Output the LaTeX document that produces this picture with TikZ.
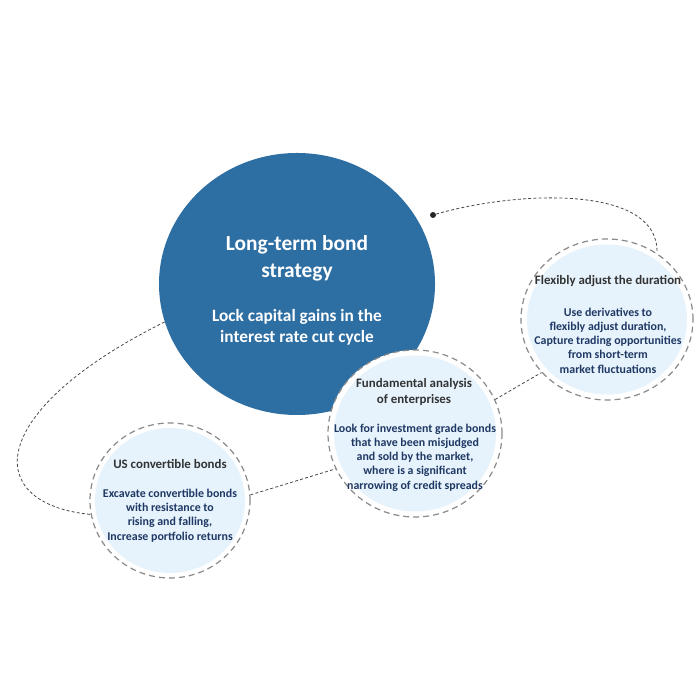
\documentclass[tikz,border=0pt]{standalone}
\usepackage{fontspec}
\setmainfont{Carlito}
\usepackage{tikz}
\usetikzlibrary{shapes.geometric}

\definecolor{bigblue}{HTML}{2D6EA3}
\definecolor{palefill}{HTML}{E6F3FC}
\definecolor{navytext}{HTML}{1F3864}
\definecolor{headgray}{HTML}{333333}
\definecolor{ringgray}{HTML}{8A8A8A}
\definecolor{linkgray}{HTML}{4A4A4A}

\begin{document}
\begin{tikzpicture}[x=1pt, y=1pt,
    bigdisc/.style={ellipse, fill=bigblue, inner sep=0pt},
    ring/.style={ellipse, fill=white, draw=ringgray, line width=1.2pt, dash pattern=on 6pt off 4pt, inner sep=0pt},
    pale/.style={ellipse, fill=palefill, inner sep=0pt},
    headtext/.style={align=center, text=headgray, font=\fontsize{12.9}{16.3}\selectfont\bfseries, inner sep=0pt},
    bodytext/.style={align=center, text=navytext, font=\fontsize{11.9}{14.3}\selectfont\bfseries, inner sep=0pt},
    link/.style={draw=linkgray, line width=0.8pt, dash pattern=on 3pt off 2.2pt},
    dotmark/.style={circle, fill=black!85, minimum size=6pt, inner sep=0pt}]

  \path[use as bounding box, fill=white] (0,0) rectangle (700,700);

  % circles first, the small ones cover the links
  \node[bigdisc, minimum width=276pt, minimum height=262pt] (big) at (297,416) {};
  \node[ring, minimum width=172pt, minimum height=161pt] (flex) at (607,380.5) {};
  \node[ring, minimum width=174pt, minimum height=167pt] (fund) at (415,266.5) {};
  \node[ring, minimum width=160pt, minimum height=155pt] (us) at (170,199.5) {};
  \node[dotmark] (start) at (433,485) {};

  % dashed links
  \draw[link] (start) .. controls +(87,25) and +(3,68) .. (flex.53); %% dot->flex
  \draw[link] (big.196) .. controls +(-179,-89) and +(-110,11) .. (us.190); %% big->us
  \draw[link] (fund.23) -- (flex.219); %% fund->flex
  \draw[link] (us.4) -- (fund.204); %% us->fund

  % centre circle text
  \node[align=center, text=white, font=\fontsize{21.4}{27.5}\selectfont\bfseries, inner sep=0pt] (bigtitle) at (297,441.5) {Long-term bond\\strategy};
  \node[align=center, text=white, font=\fontsize{17.3}{20.5}\selectfont\bfseries, inner sep=0pt] (bigsub) at (297,372.5) {Lock capital gains in the\\interest rate cut cycle};

  % flexibly adjust the duration
  \node[pale, minimum width=160pt, minimum height=150pt] (flexin) at (flex) {};
  \node[headtext] (flexhead) at (608,419) {Flexibly adjust the duration};
  \node[bodytext] (flexbody) at (608,359.5) {Use derivatives to\\flexibly adjust duration,\\Capture trading opportunities\\from short-term\\market fluctuations};

  % fundamental analysis
  \node[pale, minimum width=162pt, minimum height=156pt] (fundin) at (fund) {};
  \node[headtext] (fundhead) at (414,308) {Fundamental analysis\\of enterprises};
  \node[bodytext] (fundbody) at (415,242.5) {Look for investment grade bonds\\that have been misjudged\\and sold by the market,\\where is a significant\\narrowing of credit spreads};

  % US convertible bonds
  \node[pale, minimum width=150pt, minimum height=145pt] (usin) at (us) {};
  \node[headtext] (ushead) at (170,236) {US convertible bonds};
  \node[bodytext] (usbody) at (170,184.5) {Excavate convertible bonds\\with resistance to\\rising and falling,\\Increase portfolio returns};

\end{tikzpicture}
\end{document}
